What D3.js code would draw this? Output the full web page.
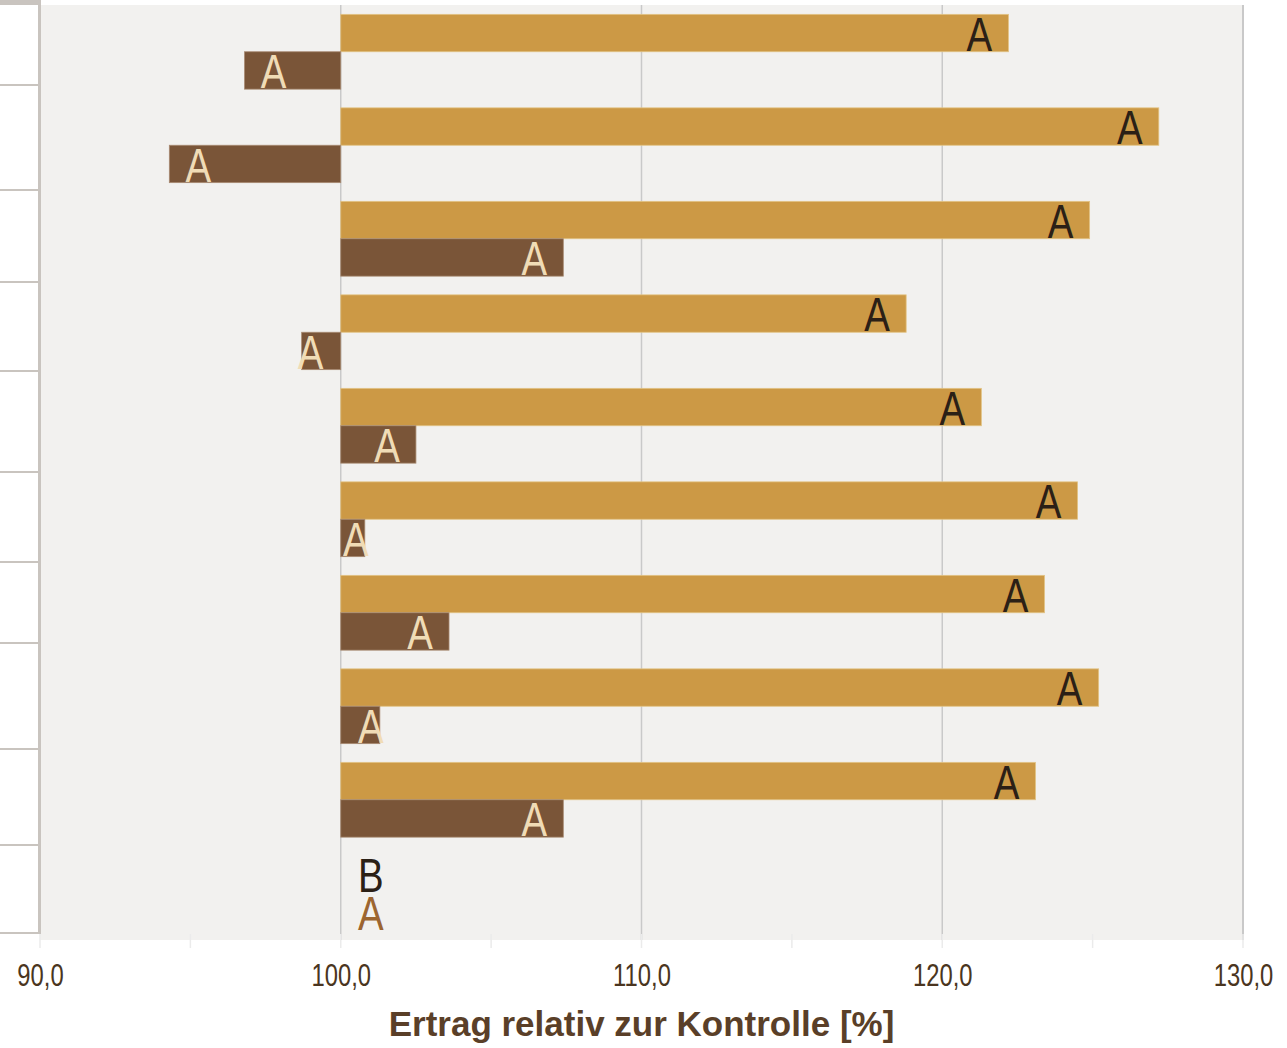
<!DOCTYPE html>
<html>
<head>
<meta charset="utf-8">
<script src="https://cdn.jsdelivr.net/npm/d3@7"></script>
<style>
  html, body { margin: 0; padding: 0; background: #ffffff; }
  svg { display: block; }
</style>
</head>
<body>
<svg id="chart" width="1287" height="1048"></svg>
<script>
// ---- data ----
const categories = ["1", "2", "3", "4", "5", "6", "7", "8", "9", "10"];
const seriesNames = ["Serie 1", "Serie 2"];
const series1Values = [122.2, 127.2, 124.9, 118.8, 121.3, 124.5, 123.4, 125.2, 123.1, 100.0];
const series2Values = [96.8, 94.3, 107.4, 98.7, 102.5, 100.8, 103.6, 101.3, 107.4, 100.0];
const series1Labels = ["A", "A", "A", "A", "A", "A", "A", "A", "A", "B"];
const series2Labels = ["A", "A", "A", "A", "A", "A", "A", "A", "A", "A"];
const xTicks = [90, 100, 110, 120, 130];
const xMinorTicks = [90, 95, 100, 105, 110, 115, 120, 125, 130];
const baseValue = 100;
const xTitle = "Ertrag relativ zur Kontrolle [%]";

// ---- layout ----
const svg = d3.select("#chart");
const plot = { left: 40, right: 1243, top: 5, bottom: 940 };
const sans = "'Liberation Sans', Arial, sans-serif";

const x = d3.scaleLinear().domain([90, 130]).range([plot.left, plot.right]);
const y = d3.scaleBand().domain(categories).range([plot.top, plot.bottom])
  .paddingInner(0.2).paddingOuter(0.1);
const ySub = d3.scaleBand().domain(seriesNames).range([0, y.bandwidth()]);

const colors = {
  bg: "#f2f1ef",
  grid: "#c9c9c9",
  frame: "#c9c4bf",
  s1: "#cc9945", s1Edge: "#e2c384",
  s2: "#7a5538", s2Edge: "#a88a72",
  s1Label: "#2b2016",
  s2Label: "#f0dcb6",
  zeroLabel2: "#9c6530",
  tick: "#4a3520",
  title: "#5a3f28"
};

// plot background
svg.append("rect")
  .attr("x", plot.left).attr("y", plot.top)
  .attr("width", plot.right - plot.left).attr("height", plot.bottom - plot.top)
  .attr("fill", colors.bg);

// top-left corner piece of frame
svg.append("rect").attr("x", 0).attr("y", 0).attr("width", plot.left).attr("height", plot.top)
  .attr("fill", colors.frame);

// left table rules (category label column, cropped)
const leftRuleY = [85, 190, 282, 371, 472, 562, 643, 749, 845, 933];
svg.append("g").selectAll("line").data(leftRuleY).join("line")
  .attr("x1", 0).attr("x2", plot.left)
  .attr("y1", d => d).attr("y2", d => d)
  .attr("stroke", colors.frame).attr("stroke-width", 2.2);

// left axis line
svg.append("line")
  .attr("x1", plot.left - 0.5).attr("x2", plot.left - 0.5)
  .attr("y1", 0).attr("y2", 934)
  .attr("stroke", colors.frame).attr("stroke-width", 3);

// vertical gridlines
svg.append("g").selectAll("line").data(xTicks.filter(d => d > 90)).join("line")
  .attr("x1", d => x(d)).attr("x2", d => x(d))
  .attr("y1", plot.top).attr("y2", plot.bottom)
  .attr("stroke", colors.grid)
  .attr("stroke-width", d => d === 130 ? 2 : 1.5);

// minor ticks below plot
svg.append("g").selectAll("line").data(xMinorTicks).join("line")
  .attr("x1", d => x(d)).attr("x2", d => x(d))
  .attr("y1", 934).attr("y2", 948)
  .attr("stroke", "#ebebeb").attr("stroke-width", 1.5);

// x axis tick labels via d3 axis
const xAxis = d3.axisBottom(x).tickValues(xTicks)
  .tickFormat(d => d3.format(".1f")(d).replace(".", ","))
  .tickSize(0).tickPadding(0);
const gx = svg.append("g").attr("transform", `translate(0, 964)`).call(xAxis);
gx.select(".domain").remove();
gx.selectAll("text")
  .attr("dy", "0.71em")
  .attr("transform", "scale(0.78,1)")
  .attr("font-family", sans)
  .attr("font-size", 30.5)
  .attr("fill", colors.tick);

// title
svg.append("text")
  .attr("x", x(110)).attr("y", 1036)
  .attr("text-anchor", "middle")
  .attr("font-family", sans)
  .attr("font-weight", "bold")
  .attr("font-size", 35)
  .attr("fill", colors.title)
  .text(xTitle);

// bars
const rows = categories.map((c, i) => ({
  cat: c,
  items: [
    { s: seriesNames[0], v: series1Values[i], label: series1Labels[i], fill: colors.s1, edge: colors.s1Edge, lc: colors.s1Label },
    { s: seriesNames[1], v: series2Values[i], label: series2Labels[i], fill: colors.s2, edge: colors.s2Edge, lc: colors.s2Label }
  ]
}));

const groups = svg.append("g").selectAll("g").data(rows).join("g")
  .attr("transform", d => `translate(0, ${y(d.cat)})`);

groups.selectAll("rect").data(d => d.items.filter(it => it.v !== baseValue)).join("rect")
  .attr("x", d => Math.min(x(d.v), x(baseValue)))
  .attr("y", d => ySub(d.s))
  .attr("width", d => Math.abs(x(d.v) - x(baseValue)))
  .attr("height", ySub.bandwidth())
  .attr("fill", d => d.fill)
  .attr("stroke", d => d.edge)
  .attr("stroke-width", 0.8);

function labelX(d) {
  const end = x(d.v), base = x(baseValue);
  const len = end - base;
  const sign = len >= 0 ? 1 : -1;
  if (len === 0) return base + 30;
  if (Math.abs(len) > 56) return end - 29 * sign;
  return end - 9 * sign;
}

groups.selectAll("text").data(d => d.items).join("text")
  .attr("transform", d => `translate(${labelX(d)}, ${ySub(d.s) + ySub.bandwidth() - 1}) scale(0.8,1)`)
  .attr("text-anchor", "middle")
  .attr("font-family", sans)
  .attr("font-size", 48)
  .attr("fill", d => d.v === baseValue && d.s === seriesNames[1] ? colors.zeroLabel2 : d.lc)
  .text(d => d.label);
</script>
</body>
</html>
